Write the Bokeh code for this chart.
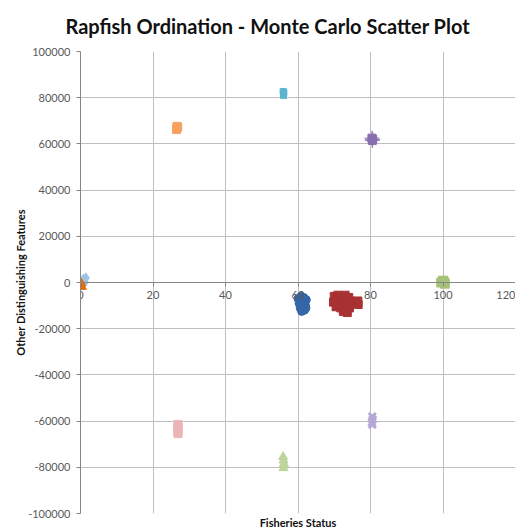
from bokeh.plotting import figure
from bokeh.models import Range1d, FixedTicker, PrintfTickFormatter, Title
from bokeh.embed import file_html
from bokeh.resources import INLINE

title_text = "Rapfish Ordination - Monte Carlo Scatter Plot"
x_label = "Fisheries Status"
y_label = "Other Distinguishing Features"
x_ticks = [0, 20, 40, 60, 80, 100, 120]
y_ticks = [-100000, -80000, -60000, -40000, -20000, 0, 20000, 40000, 60000, 80000, 100000]

# Monte Carlo clusters
orange_x = [0.0, 0.3, -0.2, 0.5, 0.1]
orange_y = [-1500, -500, 500, -2000, 0]
ltblue_x = [0.8, 1.2, 1.5, 1.0]
ltblue_y = [1500, 500, 2000, -500]
blue_x = [60.0, 60.8, 61.6, 62.3, 60.3, 61.2, 62.0, 60.6, 61.5, 62.2, 61.0, 61.8]
blue_y = [-7000, -6000, -6500, -7500, -9000, -8500, -9500, -11000, -10500, -11000, -12500, -12000]
red_x = [70.0, 71.0, 72.0, 73.0, 74.0, 69.8, 71.0, 72.2, 73.3, 74.5, 75.5, 76.6, 70.5, 71.8, 73.0, 74.2, 72.5, 73.6, 76.5]
red_y = [-6000, -5500, -6000, -5500, -6500, -8500, -8000, -9000, -8500, -8000, -8500, -9500, -10500, -11000, -10500, -11000, -12500, -13000, -8000]
olive_x = [99.5, 100.0, 100.5, 100.2]
olive_y = [0, 800, -500, 300]
aqua_x = [56.0, 56.0, 56.1, 55.9]
aqua_y = [81000, 81600, 82200, 82700]
ltorange_x = [26.5, 26.8, 26.6]
ltorange_y = [66200, 67200, 67600]
purple_x = [80.5, 80.6, 80.4]
purple_y = [61500, 62000, 62500]
pink_x = [26.9, 26.9, 26.9, 26.9, 26.9]
pink_y = [-61500, -62500, -63500, -64500, -65400]
lavender_x = [80.5, 80.6, 80.4, 80.5]
lavender_y = [-58000, -59300, -60500, -61500]
ltgreen_x = [55.9, 56.0, 56.1, 56.0]
ltgreen_y = [-75500, -77000, -78500, -80300]

FONT = "Lato"

p = figure(width=515, height=529, output_backend="svg", toolbar_location=None,
           x_range=Range1d(0, 120), y_range=Range1d(-100000, 100000),
           min_border_left=80, min_border_right=0, min_border_top=51, min_border_bottom=16)
p.outline_line_color = None
p.background_fill_color = "white"
p.border_fill_color = "white"

p.title.text = title_text
p.title.align = "left"
p.title.offset = -15
p.title.vertical_align = "top"
p.title.text_font = FONT
p.title.text_font_size = "20px"
p.title.text_font_style = "bold"
p.title.text_color = "#111111"
p.title.standoff = 24

p.add_layout(Title(text=x_label, align="center", text_font=FONT, text_font_size="11px",
                   text_font_style="bold", text_color="#111111", standoff=1), "below")

for ax in (p.xaxis, p.yaxis):
    ax.axis_line_color = "#868686"
    ax.major_tick_line_color = "#868686"
    ax.minor_tick_line_color = None
    ax.major_tick_out = 4
    ax.major_tick_in = 0
    ax.major_label_text_font = FONT
    ax.major_label_text_font_size = "11px"
    ax.major_label_text_color = "#595959"

p.xaxis.fixed_location = 0
p.xaxis.ticker = FixedTicker(ticks=x_ticks)
p.xaxis.major_label_standoff = 4
p.yaxis.ticker = FixedTicker(ticks=y_ticks)
p.yaxis.formatter = PrintfTickFormatter(format="%d")
p.yaxis.major_label_standoff = 6
p.yaxis.axis_label = y_label
p.yaxis.axis_label_text_font = FONT
p.yaxis.axis_label_text_font_size = "11px"
p.yaxis.axis_label_text_font_style = "bold"
p.yaxis.axis_label_text_color = "#111111"
p.yaxis.axis_label_standoff = -2

p.xgrid.ticker = FixedTicker(ticks=x_ticks)
p.ygrid.ticker = FixedTicker(ticks=y_ticks)
p.xgrid.grid_line_color = "#BFBFBF"
p.ygrid.grid_line_color = "#BFBFBF"

p.scatter(ltgreen_x, ltgreen_y, marker="triangle", size=9, color="#BDD49A")
p.scatter(lavender_x, lavender_y, marker="x", size=10, line_width=3, color="#B6A8D6")
p.scatter(pink_x, pink_y, marker="square", size=8, color="#EBB5B8")
p.scatter(purple_x, purple_y, marker="square", size=8, color="#8A6FAF")
p.scatter(purple_x, purple_y, marker="cross", size=15, line_width=1, color="#8A6FAF")
p.scatter(ltorange_x, ltorange_y, marker="square", size=8, color="#F6A15F")
p.scatter(aqua_x, aqua_y, marker="square", size=6, color="#5BB5D0")
p.scatter(olive_x, olive_y, marker="square_x", size=9, line_width=1, fill_color="#A7C27A", line_color="#A7C27A")
p.scatter(red_x, red_y, marker="square", size=8, color="#A83232")
p.scatter(blue_x, blue_y, marker="circle", size=8, color="#3566A8")
p.scatter(ltblue_x, ltblue_y, marker="diamond", size=10, color="#9DC3E6")
p.scatter(orange_x, orange_y, marker="triangle", size=8, color="#E46C0A")

open("out.html", "w").write(file_html(p, INLINE))
